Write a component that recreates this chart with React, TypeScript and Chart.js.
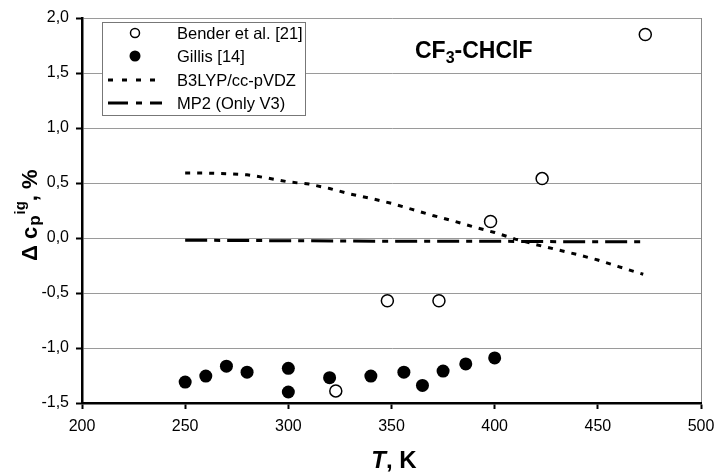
import React, { useEffect, useRef } from "react";
import { Chart, registerables } from "chart.js";

Chart.register(...registerables);

// ---- data ----
const X_TICKS = [200, 250, 300, 350, 400, 450, 500];
const Y_TICKS = [-1.5, -1.0, -0.5, 0.0, 0.5, 1.0, 1.5, 2.0];

const benderT = [323, 348, 373, 398, 423, 473];
const benderD = [-1.39, -0.57, -0.57, 0.15, 0.54, 1.85];

const gillisT = [250, 260, 270, 280, 300, 300, 320, 340, 356, 365, 375, 386, 400];
const gillisD = [-1.31, -1.255, -1.165, -1.22, -1.185, -1.40, -1.27, -1.255, -1.22, -1.34, -1.21, -1.145, -1.09];

const b3lypT = [250, 260, 270, 280, 290, 300, 310, 320, 330, 340, 350, 360, 370, 380, 390, 400, 410, 420, 430, 440, 450, 460, 472];
const b3lypD = [0.59, 0.59, 0.585, 0.575, 0.545, 0.51, 0.49, 0.45, 0.40, 0.36, 0.315, 0.26, 0.205, 0.155, 0.10, 0.05, -0.01, -0.06, -0.105, -0.15, -0.2, -0.26, -0.33];

const mp2T = [250, 300, 350, 400, 450, 472];
const mp2D = [-0.02, -0.025, -0.03, -0.03, -0.035, -0.035];

const LEGEND_LABELS = ["Bender et al. [21]", "Gillis [14]", "B3LYP/cc-pVDZ", "MP2 (Only V3)"];

const FONT = "'Liberation Sans', Arial, Helvetica, sans-serif";

const zip = (xs: number[], ys: number[]) => xs.map((x, i) => ({ x, y: ys[i] }));

const fmt = (v: number) => v.toFixed(1).replace(".", ",");

const overlayPlugin = {
  id: "overlay",
  afterDraw(chart: any) {
    const ctx: CanvasRenderingContext2D = chart.ctx;
    ctx.save();
    ctx.fillStyle = "#000";

    // --- legend box ---
    const bx = 102, by = 22, bw = 203, bh = 93;
    ctx.fillStyle = "#fff";
    ctx.fillRect(bx, by, bw, bh);
    ctx.strokeStyle = "#777";
    ctx.lineWidth = 1;
    ctx.strokeRect(bx + 0.5, by + 0.5, bw, bh);

    const rowsY = [33, 56, 80, 103];
    ctx.font = `16.5px ${FONT}`;
    ctx.fillStyle = "#000";
    ctx.textBaseline = "middle";
    ctx.textAlign = "left";
    LEGEND_LABELS.forEach((t, i) => ctx.fillText(t, 177, rowsY[i] + 1));

    // open circle
    ctx.beginPath();
    ctx.arc(135, rowsY[0], 4.5, 0, Math.PI * 2);
    ctx.fillStyle = "#fff";
    ctx.fill();
    ctx.lineWidth = 1.5;
    ctx.strokeStyle = "#000";
    ctx.stroke();
    // filled circle
    ctx.beginPath();
    ctx.arc(135, rowsY[1], 5.5, 0, Math.PI * 2);
    ctx.fillStyle = "#000";
    ctx.fill();
    // dotted line
    ctx.lineWidth = 3;
    ctx.setLineDash([5, 9]);
    ctx.beginPath();
    ctx.moveTo(108, rowsY[2]);
    ctx.lineTo(162, rowsY[2]);
    ctx.stroke();
    // dash-dot
    ctx.setLineDash([20, 8, 6, 8]);
    ctx.beginPath();
    ctx.moveTo(108, rowsY[3]);
    ctx.lineTo(162, rowsY[3]);
    ctx.stroke();
    ctx.setLineDash([]);

    // --- title CF3-CHClF ---
    ctx.fillStyle = "#000";
    ctx.textBaseline = "alphabetic";
    const tBase = 58;
    let x = 415;
    ctx.font = `bold 23px ${FONT}`;
    ctx.fillText("CF", x, tBase);
    x += ctx.measureText("CF").width;
    ctx.font = `bold 16px ${FONT}`;
    ctx.fillText("3", x, tBase + 5);
    x += ctx.measureText("3").width;
    ctx.font = `bold 23px ${FONT}`;
    ctx.fillText("-CHClF", x, tBase);

    // --- x axis title ---
    ctx.font = `italic bold 24px ${FONT}`;
    const wT = ctx.measureText("T").width;
    ctx.font = `bold 24px ${FONT}`;
    const wR = ctx.measureText(", K").width;
    let xs = 394 - (wT + wR) / 2;
    ctx.font = `italic bold 24px ${FONT}`;
    ctx.fillText("T", xs, 468);
    ctx.font = `bold 24px ${FONT}`;
    ctx.fillText(", K", xs + wT, 468);

    // --- y axis title ---
    ctx.translate(37, 261);
    ctx.rotate(-Math.PI / 2);
    let p = 0;
    ctx.font = `bold 22px ${FONT}`;
    ctx.fillText("\u0394 c", p, 0);
    p += ctx.measureText("\u0394 c").width + 1;
    ctx.font = `bold 17px ${FONT}`;
    ctx.fillText("p", p, 3);
    p += ctx.measureText("p").width + 1;
    ctx.font = `bold 15px ${FONT}`;
    ctx.fillText("ig", p, -12);
    p += ctx.measureText("ig").width;
    ctx.font = `bold 22px ${FONT}`;
    ctx.fillText(", %", p, 0);

    ctx.restore();
  },
};

export default function App() {
  const ref = useRef<HTMLCanvasElement | null>(null);

  useEffect(() => {
    document.body.style.margin = "0";
    const canvas = ref.current;
    if (!canvas) return;
    const chart = new Chart(canvas, {
      type: "scatter",
      data: {
        datasets: [
          {
            label: "B3LYP/cc-pVDZ",
            data: zip(b3lypT, b3lypD),
            showLine: true,
            borderColor: "#000",
            borderWidth: 3,
            borderDash: [5, 7],
            pointRadius: 0,
            tension: 0,
            order: 3,
          },
          {
            label: "MP2 (Only V3)",
            data: zip(mp2T, mp2D),
            showLine: true,
            borderColor: "#000",
            borderWidth: 3,
            borderDash: [22, 7, 6, 7],
            pointRadius: 0,
            tension: 0,
            order: 4,
          },
          {
            label: "Bender et al. [21]",
            data: zip(benderT, benderD),
            showLine: false,
            pointRadius: 6,
            pointBorderWidth: 1.5,
            pointBackgroundColor: "#fff",
            pointBorderColor: "#000",
            order: 1,
          },
          {
            label: "Gillis [14]",
            data: zip(gillisT, gillisD),
            showLine: false,
            pointRadius: 6.5,
            pointBorderWidth: 0,
            pointBackgroundColor: "#000",
            pointBorderColor: "#000",
            order: 2,
          },
        ],
      },
      options: {
        animation: false,
        responsive: true,
        maintainAspectRatio: false,
        layout: { padding: { top: 18, right: 16, left: 0, bottom: 0 } },
        plugins: {
          legend: { display: false },
          tooltip: { enabled: false },
          title: { display: false },
        },
        scales: {
          x: {
            type: "linear",
            min: 200,
            max: 500,
            afterBuildTicks: (s: any) => {
              s.ticks = X_TICKS.map((v) => ({ value: v }));
            },
            afterFit: (s: any) => {
              s.height = 69;
              s.paddingRight = 0;
              s.paddingLeft = 0;
            },
            ticks: {
              color: "#000",
              font: { family: FONT, size: 16 },
              padding: 8,
              maxRotation: 0,
              callback: (v: any) => String(v),
            },
            grid: {
              color: (c: any) => (c.tick && c.tick.value === 500 ? "#888" : "rgba(0,0,0,0)"),
              lineWidth: 1,
              drawTicks: true,
              tickLength: 6,
              tickColor: "#000",
              tickWidth: 2,
            },
            border: { display: true, color: "#000", width: 2.5 },
          },
          y: {
            type: "linear",
            min: -1.5,
            max: 2.0,
            afterBuildTicks: (s: any) => {
              s.ticks = Y_TICKS.map((v) => ({ value: v }));
            },
            afterFit: (s: any) => {
              s.width = 82;
              s.paddingTop = 0;
              s.paddingBottom = 0;
            },
            ticks: {
              color: "#000",
              font: { family: FONT, size: 16 },
              padding: 7,
              callback: (v: any) => fmt(Number(v)),
            },
            grid: {
              color: "#9a9a9a",
              lineWidth: 1,
              drawTicks: true,
              tickLength: 6,
              tickColor: "#000",
              tickWidth: 2,
            },
            border: { display: true, color: "#000", width: 2.5 },
          },
        },
      },
      plugins: [overlayPlugin],
    });
    return () => chart.destroy();
  }, []);

  return (
    <div style={{ width: 717, height: 472, position: "relative", background: "#fff" }}>
      <canvas ref={ref} />
    </div>
  );
}
